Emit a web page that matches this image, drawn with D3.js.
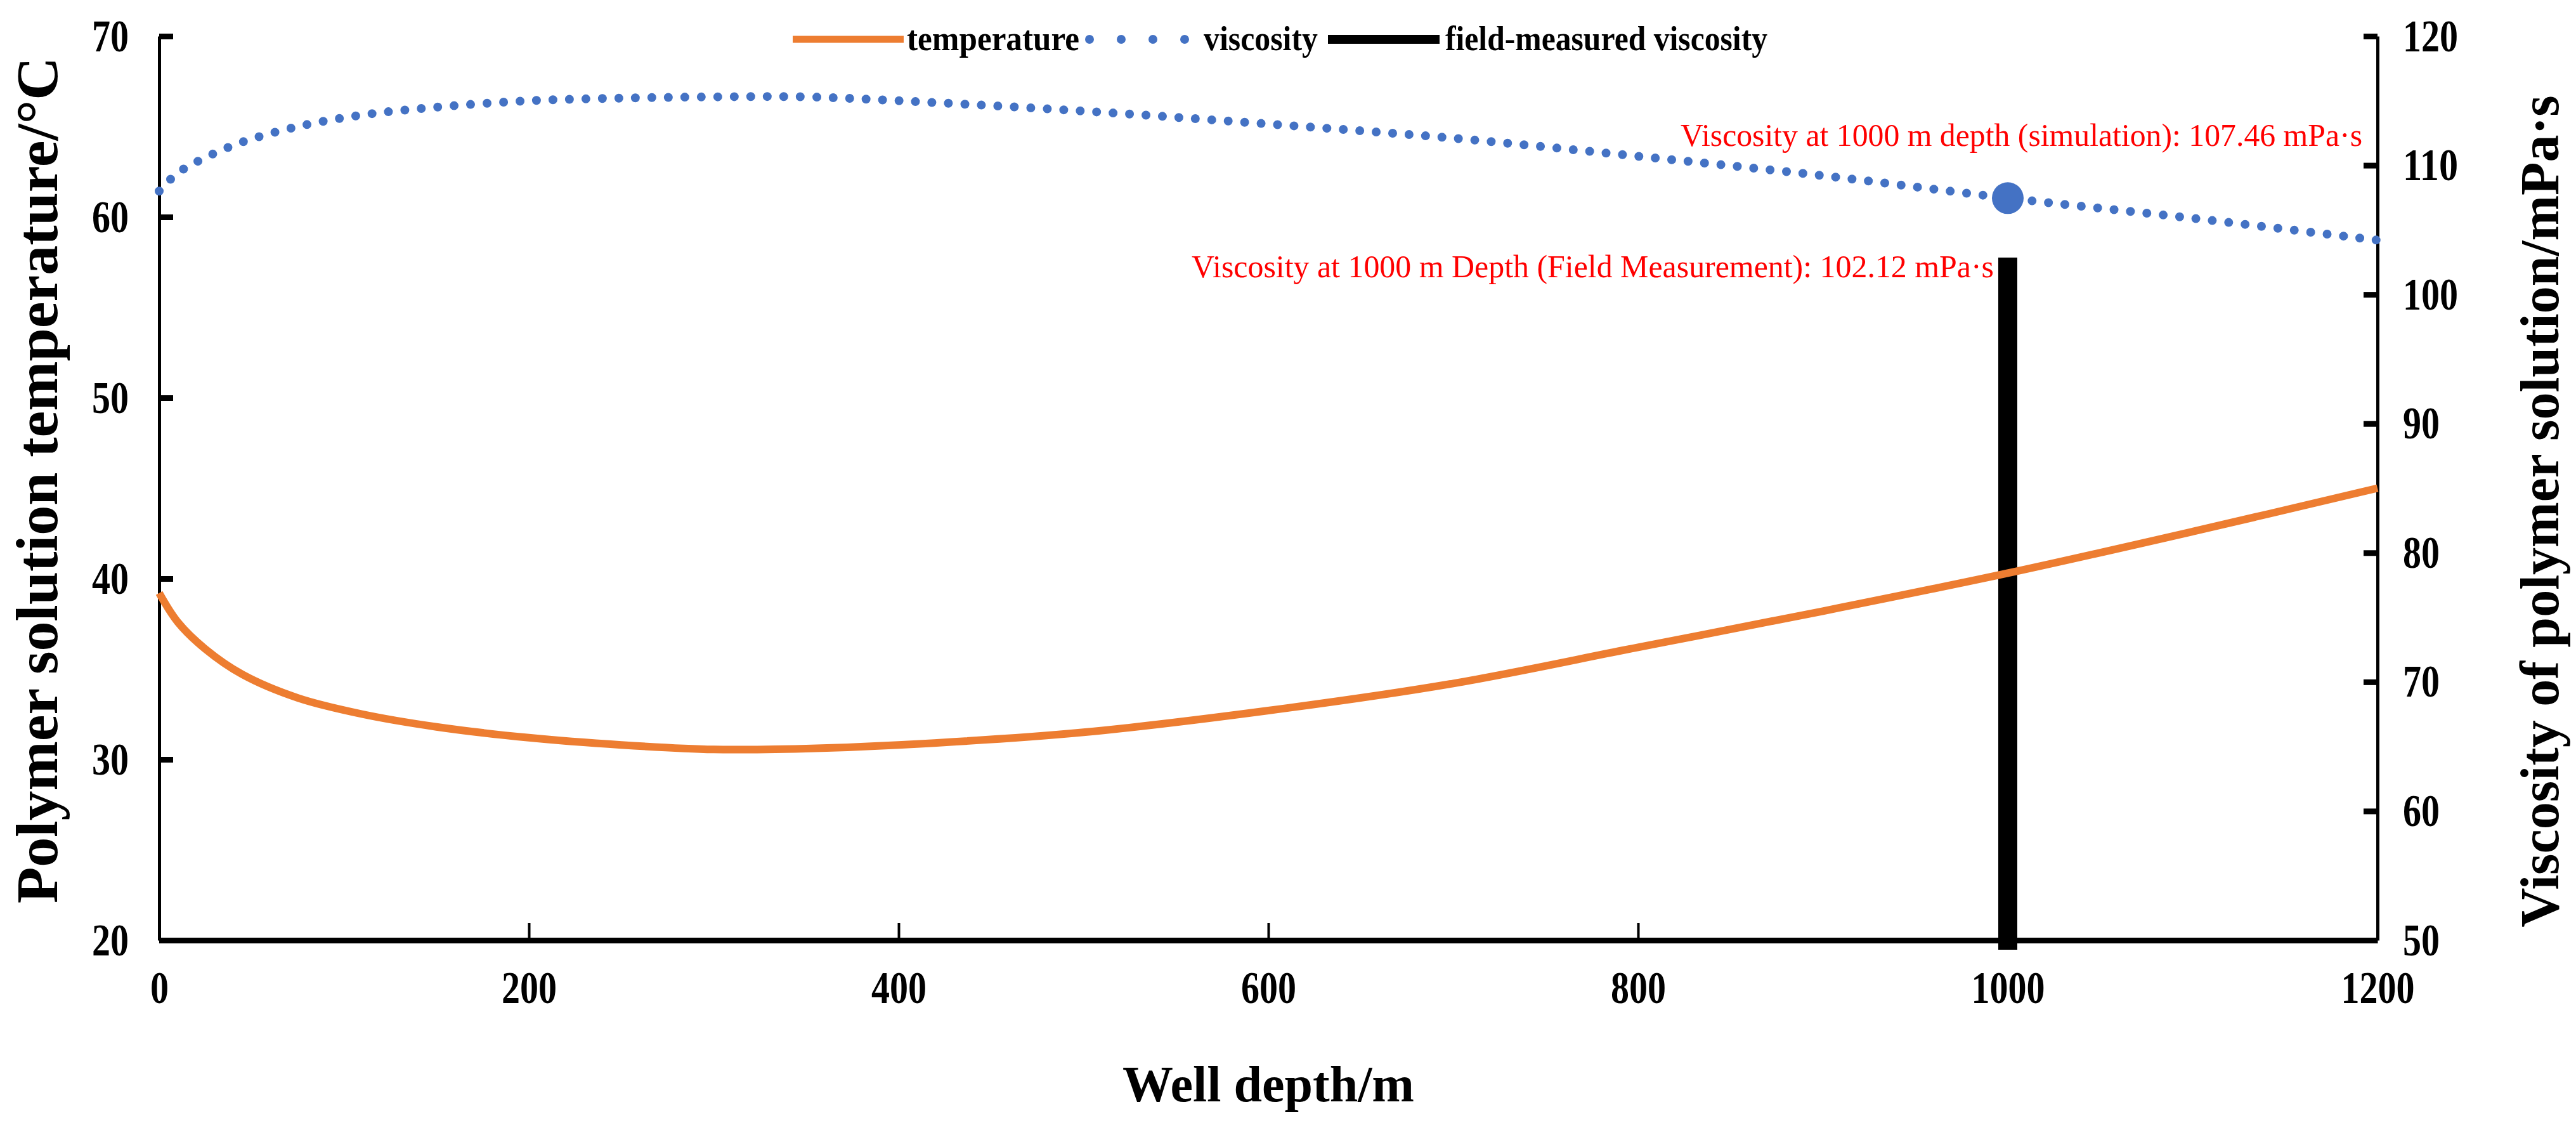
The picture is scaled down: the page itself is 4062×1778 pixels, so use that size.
<!DOCTYPE html>
<html>
<head>
<meta charset="utf-8">
<script src="https://cdn.jsdelivr.net/npm/d3@7"></script>
<style>
  body { margin: 0; background: #fff; }
  text { font-family: "Times New Roman", "Liberation Serif", serif; }
</style>
</head>
<body>
<div id="chart"></div>
<script>
// chart data
var depth = [0, 10, 25, 45, 75, 110, 150, 200, 250, 300, 350, 400, 500, 600, 700, 800, 900, 1000, 1100, 1200];
var temperature = [39.2, 37.6, 36.1, 34.7, 33.4, 32.5, 31.8, 31.2, 30.8, 30.55, 30.6, 30.8, 31.5, 32.7, 34.2, 36.2, 38.2, 40.3, 42.6, 45.0];
var viscosity = [108.0, 109.4, 110.6, 111.8, 113.0, 113.9, 114.5, 115.0, 115.2, 115.3, 115.3, 115.0, 114.2, 113.2, 112.1, 110.7, 109.2, 107.46, 105.9, 104.2];

var simDepth = 1000, simViscosity = 107.46;
var fieldDepth = 1000, fieldViscosity = 102.12;

var xTicks = [0, 200, 400, 600, 800, 1000, 1200];
var yLeftTicks = [20, 30, 40, 50, 60, 70];
var yRightTicks = [50, 60, 70, 80, 90, 100, 110, 120];

var svgWidth = 4062;
var svgHeight = 1778;
var plot = { left: 251, right: 3749, top: 57, bottom: 1482 };

var svg = d3.select("#chart")
  .append("svg")
  .attr("width", svgWidth)
  .attr("height", svgHeight);

var xScale = d3.scaleLinear().domain([0, 1200]).range([plot.left, plot.right]);
var yLeft = d3.scaleLinear().domain([20, 70]).range([plot.bottom, plot.top]);
var yRight = d3.scaleLinear().domain([50, 120]).range([plot.bottom, plot.top]);

var digitW = 29;
function squeeze(sel) {
  sel.attr("textLength", function(d) { return String(d).length * digitW; })
    .attr("lengthAdjust", "spacingAndGlyphs");
}

// axes
var xAxis = d3.axisBottom(xScale).tickValues(xTicks).tickFormat(d3.format("d"))
  .tickSizeInner(-27).tickSizeOuter(0).tickPadding(48);
var gx = svg.append("g").attr("class", "xAxis")
  .attr("transform", "translate(0," + plot.bottom + ")")
  .call(xAxis);
gx.select(".domain").attr("stroke-width", 9);
gx.selectAll(".tick line").attr("stroke-width", 4);
gx.selectAll(".tick text").attr("font-size", 72).attr("font-weight", "bold")
  .attr("font-family", "'Times New Roman', 'Liberation Serif', serif").call(squeeze);

var yAxisL = d3.axisLeft(yLeft).tickValues(yLeftTicks).tickSizeInner(-22).tickSizeOuter(0).tickPadding(48);
var gyl = svg.append("g").attr("class", "yAxisL")
  .attr("transform", "translate(" + plot.left + ",0)")
  .call(yAxisL);
gyl.select(".domain").attr("stroke-width", 5);
gyl.selectAll(".tick line").attr("stroke-width", 9);
gyl.selectAll(".tick text").attr("font-size", 72).attr("font-weight", "bold")
  .attr("font-family", "'Times New Roman', 'Liberation Serif', serif").call(squeeze);

var yAxisR = d3.axisRight(yRight).tickValues(yRightTicks).tickSizeInner(-22).tickSizeOuter(0).tickPadding(40);
var gyr = svg.append("g").attr("class", "yAxisR")
  .attr("transform", "translate(" + plot.right + ",0)")
  .call(yAxisR);
gyr.select(".domain").attr("stroke-width", 5);
gyr.selectAll(".tick line").attr("stroke-width", 9);
gyr.selectAll(".tick text").attr("font-size", 72).attr("font-weight", "bold")
  .attr("font-family", "'Times New Roman', 'Liberation Serif', serif").call(squeeze);

// axis titles
svg.append("text")
  .attr("x", 2000).attr("y", 1736)
  .attr("text-anchor", "middle")
  .attr("font-size", 80).attr("font-weight", "bold")
  .text("Well depth/m");

svg.append("text")
  .attr("transform", "translate(90,757) rotate(-90)")
  .attr("text-anchor", "middle")
  .attr("font-size", 94).attr("font-weight", "bold")
  .text("Polymer solution temperature/\u00B0C");

svg.append("text")
  .attr("transform", "translate(4034,806) rotate(-90)")
  .attr("text-anchor", "middle")
  .attr("font-size", 86).attr("font-weight", "bold")
  .text("Viscosity of polymer solution/mPa\u00B7s");

// curves
var rows = depth.map(function(d, i) {
  return { depth: d, temp: temperature[i], visc: viscosity[i] };
});

var tempLine = d3.line()
  .x(function(d) { return xScale(d.depth); })
  .y(function(d) { return yLeft(d.temp); })
  .curve(d3.curveCatmullRom);

var viscLine = d3.line()
  .x(function(d) { return xScale(d.depth); })
  .y(function(d) { return yRight(d.visc); })
  .curve(d3.curveCatmullRom);

// field-measured bar
svg.append("line")
  .attr("x1", xScale(fieldDepth)).attr("x2", xScale(fieldDepth))
  .attr("y1", yRight(50)).attr("y2", yRight(fieldViscosity))
  .attr("stroke", "#000").attr("stroke-width", 30)
  .attr("stroke-linecap", "square");

svg.append("path")
  .datum(rows)
  .attr("d", tempLine)
  .attr("fill", "none")
  .attr("stroke", "#ED7D31")
  .attr("stroke-width", 12);

svg.append("path")
  .datum(rows)
  .attr("d", viscLine)
  .attr("fill", "none")
  .attr("stroke", "#4472C4")
  .attr("stroke-width", 14)
  .attr("stroke-linecap", "round")
  .attr("stroke-dasharray", "0 26");

svg.append("circle")
  .attr("cx", xScale(simDepth))
  .attr("cy", yRight(simViscosity))
  .attr("r", 25)
  .attr("fill", "#4472C4");

// annotations
svg.append("text")
  .attr("x", 3725).attr("y", 230)
  .attr("text-anchor", "end")
  .attr("font-size", 50).attr("fill", "#FF0000")
  .attr("textLength", 1075).attr("lengthAdjust", "spacingAndGlyphs")
  .text("Viscosity at 1000 m depth (simulation): " + simViscosity + " mPa\u00B7s");

svg.append("text")
  .attr("x", 3144).attr("y", 437)
  .attr("text-anchor", "end")
  .attr("font-size", 50).attr("fill", "#FF0000")
  .attr("textLength", 1265).attr("lengthAdjust", "spacingAndGlyphs")
  .text("Viscosity at 1000 m Depth (Field Measurement): " + fieldViscosity + " mPa\u00B7s");

// legend
var legendY = 62;
var legend = svg.append("g").attr("class", "legend");

legend.append("line")
  .attr("x1", 1250).attr("x2", 1425).attr("y1", legendY).attr("y2", legendY)
  .attr("stroke", "#ED7D31").attr("stroke-width", 11);
legend.append("text")
  .attr("x", 1430).attr("y", legendY + 17)
  .attr("font-size", 54).attr("font-weight", "bold")
  .attr("textLength", 272).attr("lengthAdjust", "spacingAndGlyphs")
  .text("temperature");

legend.append("line")
  .attr("x1", 1718).attr("x2", 1870).attr("y1", legendY).attr("y2", legendY)
  .attr("stroke", "#4472C4").attr("stroke-width", 14)
  .attr("stroke-linecap", "round").attr("stroke-dasharray", "0 50");
legend.append("text")
  .attr("x", 1898).attr("y", legendY + 17)
  .attr("font-size", 54).attr("font-weight", "bold")
  .attr("textLength", 180).attr("lengthAdjust", "spacingAndGlyphs")
  .text("viscosity");

legend.append("line")
  .attr("x1", 2094).attr("x2", 2270).attr("y1", legendY).attr("y2", legendY)
  .attr("stroke", "#000").attr("stroke-width", 14);
legend.append("text")
  .attr("x", 2279).attr("y", legendY + 17)
  .attr("font-size", 54).attr("font-weight", "bold")
  .attr("textLength", 508).attr("lengthAdjust", "spacingAndGlyphs")
  .text("field-measured viscosity");
</script>
</body>
</html>
